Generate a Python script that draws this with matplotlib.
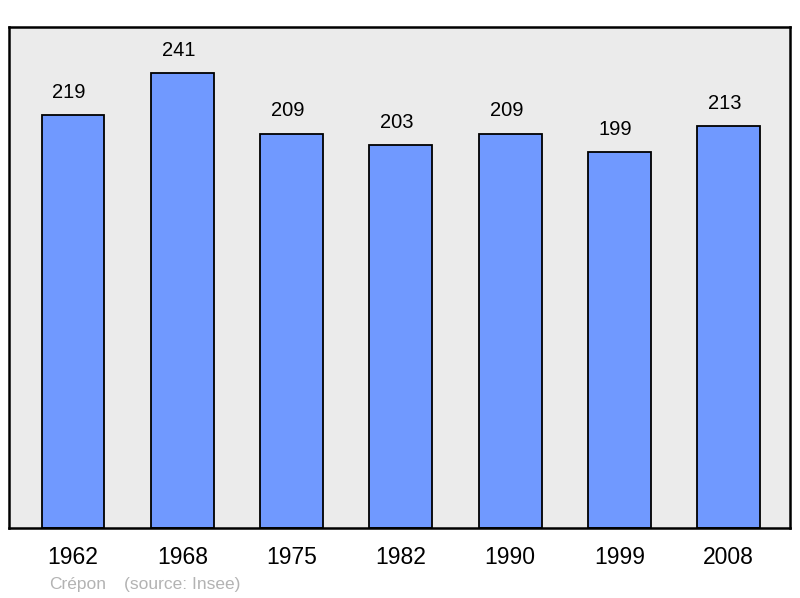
import matplotlib
matplotlib.use("Agg")
import matplotlib.pyplot as plt

years = ["1962", "1968", "1975", "1982", "1990", "1999", "2008"]
population = [219, 241, 209, 203, 209, 199, 213]
place = "Crépon"
source = "(source: Insee)"

plt.rcParams['font.family'] = ['Liberation Sans', 'DejaVu Sans']

fig = plt.figure(figsize=(8.0, 5.98), dpi=100)
W, H = 800, 598
ax = fig.add_axes([9 / W, 1 - 528 / H, (790 - 9) / W, (528 - 27) / H])
ax.set_facecolor('#ebebeb')

x = list(range(len(years)))
ax.bar(x, population, width=0.575, color='#7099ff', edgecolor='black',
       linewidth=1.3, zorder=2)
for xi, v in zip(x, population):
    ax.text(xi - 0.035, v + 7, str(v), ha='center', va='bottom', fontsize=14.5, color='black')

ax.set_xlim(-0.585, 6.56)
ax.set_ylim(0, 265.5)
ax.set_xticks(x)
ax.set_xticklabels(years, fontsize=16.5)
ax.tick_params(axis='x', length=0, pad=13)
ax.set_yticks([])
for s in ax.spines.values():
    s.set_linewidth(1.8)
    s.set_color('black')

fig.text(49 / W, 1 - 584 / H, place, fontsize=12.5, color='#b3b3b3', va='center', ha='left')
fig.text(124 / W, 1 - 584 / H, source, fontsize=12.5, color='#b3b3b3', va='center', ha='left')

fig.savefig("out.png", dpi=100)
